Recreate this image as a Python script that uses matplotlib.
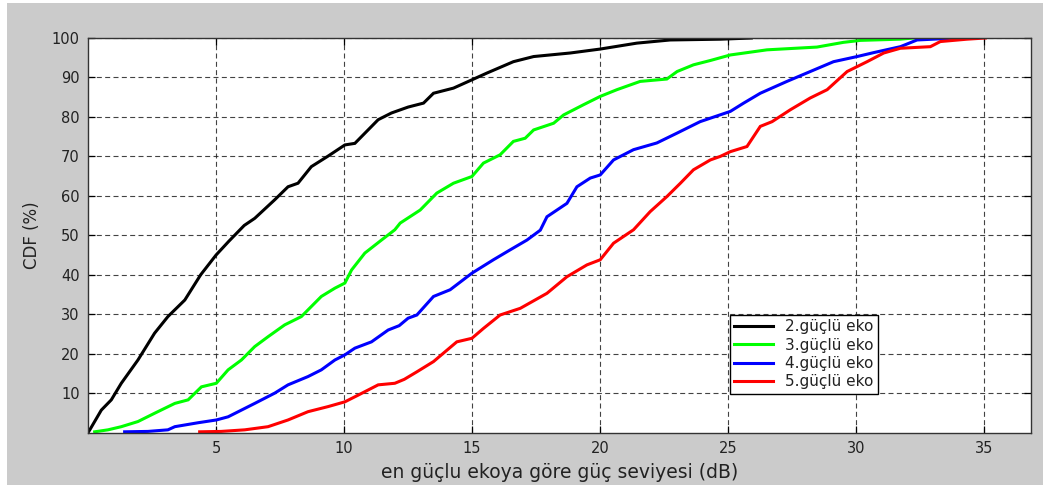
import matplotlib
matplotlib.use("Agg")
import matplotlib.pyplot as plt
from matplotlib.patches import Rectangle

# CDF curves of echo power relative to the strongest echo (dB, %)
eko2_x = [0.0, 0.07, 0.52, 0.91, 1.3, 1.95, 2.6, 3.12, 3.78, 4.4, 5.0, 5.5, 6.1, 6.51,
          7.29, 7.81, 8.2, 8.72, 9.38, 10.03, 10.42, 11.33, 11.85, 12.5, 13.1, 13.49,
          14.27, 14.99, 15.57, 16.61, 17.4, 18.83, 20.0, 21.43, 22.73, 24.7, 25.9]
eko2_y = [0.0, 0.7, 5.7, 8.3, 12.5, 18.4, 25.2, 29.4, 33.6, 40.0, 45.0, 48.5, 52.5, 54.3,
          59.0, 62.3, 63.2, 67.4, 70.1, 72.9, 73.3, 79.3, 81.0, 82.5, 83.5, 86.0,
          87.3, 89.4, 91.1, 94.0, 95.3, 96.2, 97.2, 98.7, 99.5, 99.7, 100.0]

eko3_x = [0.26, 0.78, 1.3, 1.95, 2.6, 3.39, 3.91, 4.43, 5.01, 5.47, 5.99, 6.51, 7.03,
          7.68, 8.33, 9.11, 9.64, 10.03, 10.29, 10.81, 11.46, 11.98, 12.19, 12.97,
          13.62, 14.27, 14.99, 15.44, 16.09, 16.61, 17.07, 17.4, 18.18, 18.57, 19.35,
          20.0, 20.65, 21.56, 22.6, 23.0, 23.64, 24.3, 25.08, 26.51, 28.46, 29.5,
          30.16, 31.7, 32.24]
eko3_y = [0.2, 0.7, 1.5, 2.8, 4.9, 7.4, 8.3, 11.6, 12.5, 15.9, 18.4, 21.8, 24.3,
          27.3, 29.4, 34.5, 36.6, 37.9, 41.2, 45.5, 48.8, 51.4, 53.1, 56.4,
          60.7, 63.2, 64.9, 68.3, 70.4, 73.8, 74.6, 76.7, 78.4, 80.5, 83.1,
          85.2, 86.9, 89.0, 89.6, 91.5, 93.2, 94.3, 95.7, 97.0, 97.7, 98.9,
          99.4, 99.7, 100.0]

eko4_x = [1.43, 2.34, 3.12, 3.39, 4.3, 5.01, 5.47, 5.99, 6.51, 7.29, 7.81, 8.59, 9.11,
          9.64, 10.03, 10.42, 11.07, 11.72, 12.15, 12.5, 12.84, 13.49, 14.14, 14.99,
          15.83, 16.48, 17.14, 17.66, 17.92, 18.7, 19.09, 19.61, 20.0, 20.52, 21.3,
          22.21, 23.0, 23.9, 25.08, 25.6, 26.25, 27.29, 28.2, 29.11, 30.03, 30.68,
          31.72, 32.37, 33.0, 33.93]
eko4_y = [0.2, 0.3, 0.7, 1.5, 2.5, 3.2, 4.0, 5.7, 7.4, 10.0, 12.1, 14.2, 15.9,
          18.4, 19.7, 21.4, 23.0, 26.0, 27.1, 29.0, 29.8, 34.5, 36.2, 40.4,
          43.8, 46.3, 48.8, 51.3, 54.7, 58.1, 62.3, 64.5, 65.3, 69.1, 71.7,
          73.4, 75.9, 78.8, 81.4, 83.5, 86.0, 89.0, 91.5, 94.0, 95.3, 96.3,
          97.8, 99.5, 99.7, 100.0]

eko5_x = [4.36, 5.2, 6.12, 7.03, 7.81, 8.59, 9.38, 10.03, 10.55, 11.33, 11.98, 12.35,
          12.84, 13.49, 14.4, 14.99, 15.44, 16.09, 16.88, 17.92, 18.7, 19.48, 20.0,
          20.52, 21.3, 21.95, 22.6, 23.13, 23.64, 24.3, 24.69, 25.08, 25.73, 26.25,
          26.71, 27.42, 28.2, 28.86, 29.64, 30.42, 31.07, 31.72, 32.89, 33.28, 34.32,
          35.04]
eko5_y = [0.2, 0.3, 0.7, 1.5, 3.2, 5.3, 6.6, 7.8, 9.5, 12.1, 12.5, 13.5,
          15.4, 18.0, 23.0, 23.9, 26.4, 29.8, 31.5, 35.3, 39.5, 42.5, 43.8,
          48.0, 51.4, 56.0, 59.8, 63.2, 66.6, 69.1, 70.0, 71.2, 72.5, 77.6,
          78.8, 81.8, 84.8, 86.9, 91.5, 94.0, 96.2, 97.4, 97.8, 99.1, 99.7,
          100.0]

series = [
    (eko2_x, eko2_y, "2.güçlü eko", "black"),
    (eko3_x, eko3_y, "3.güçlü eko", "#00ff00"),
    (eko4_x, eko4_y, "4.güçlü eko", "#0000ff"),
    (eko5_x, eko5_y, "5.güçlü eko", "#ff0000"),
]

plt.rcParams["font.family"] = ["DejaVu Sans"]

fig = plt.figure(figsize=(10.44, 4.88), dpi=100, facecolor="white")
# grey figure panel with a thin white margin, kept behind the axes
fig.patches.append(Rectangle((7 / 1044, 3 / 488), 1036 / 1044, 482 / 488,
                             transform=fig.transFigure, facecolor="#cbcbcb",
                             edgecolor="none", zorder=-10))

ax = fig.add_axes([88 / 1044, (488 - 432.6) / 488, 942.5 / 1044, 394.6 / 488])
ax.set_facecolor("white")

for xs, ys, name, col in series:
    ax.plot(xs, ys, color=col, linewidth=2.2, label=name, solid_joinstyle="miter")

ax.set_xlim(0, 36.8)
ax.set_ylim(0, 100)
ax.set_xticks([5, 10, 15, 20, 25, 30, 35])
ax.set_yticks([10, 20, 30, 40, 50, 60, 70, 80, 90, 100])

ax.grid(True, color="#222222", linestyle=(0, (4.5, 3)), linewidth=0.8, alpha=0.85)
ax.tick_params(direction="in", top=True, right=True, length=5, width=0.9,
               labelsize=10.5, colors="black", labelcolor="#222222", pad=6)
for sp in ax.spines.values():
    sp.set_color("#333333")
    sp.set_linewidth(1.0)

ax.set_xlabel("en güçlu ekoya göre güç seviyesi (dB)", fontsize=13.5, color="#222222",
              labelpad=5)
ax.set_ylabel("CDF (%)", fontsize=12, color="#222222", labelpad=8)

leg = ax.legend(loc="lower left", bbox_to_anchor=(0.681, 0.098), fontsize=11,
                frameon=True, fancybox=False, handlelength=2.5, handletextpad=0.8,
                borderpad=0.3, labelspacing=0.22, borderaxespad=0)
leg.get_frame().set_edgecolor("black")
leg.get_frame().set_linewidth(1.0)
leg.get_frame().set_alpha(1)
for t in leg.get_texts():
    t.set_color("#222222")

fig.savefig("out.png", dpi=100, facecolor=fig.get_facecolor())
